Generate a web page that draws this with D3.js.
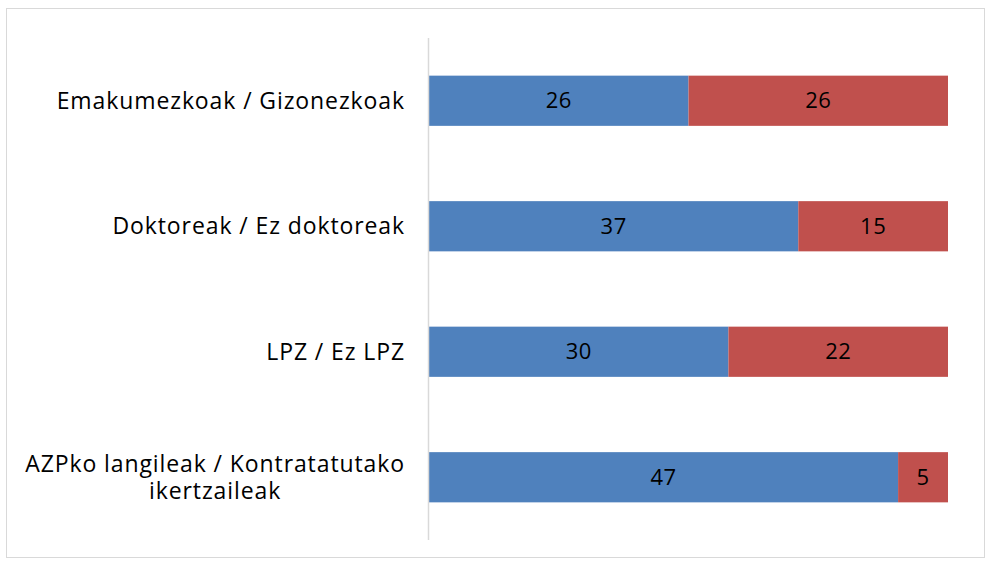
<!DOCTYPE html>
<html><head><meta charset="utf-8">
<script src="https://cdn.jsdelivr.net/npm/d3@7"></script>
<style>body{margin:0;background:#fff}svg{display:block}</style>
</head><body>
<svg id="c" width="986" height="562"></svg>
<script>
const categories = [
  ["Emakumezkoak / Gizonezkoak"],
  ["Doktoreak / Ez doktoreak"],
  ["LPZ / Ez LPZ"],
  ["AZPko langileak / Kontratatutako", "ikertzaileak"]
];
const seriesA = [26, 37, 30, 47];
const seriesB = [26, 15, 22, 5];
const colors = ["#4F81BD", "#C0504D"];

const svg = d3.select("#c");
const font = "'Open Sans', sans-serif";
svg.append("rect").attr("x",6.5).attr("y",8.5).attr("width",978).attr("height",549)
  .attr("fill","#fff").attr("stroke","#d9d9d9").attr("stroke-width",1);

const x = d3.scaleLinear().domain([0,52]).range([429,948]);
const y = d3.scaleBand().domain(d3.range(categories.length)).range([38,540]).paddingInner(0.6).paddingOuter(0.3);

const g = svg.append("g");
categories.forEach((c,i)=>{
  const stacks = [[0,seriesA[i]],[seriesA[i],seriesA[i]+seriesB[i]]];
  const vals = [seriesA[i], seriesB[i]];
  stacks.forEach((s,j)=>{
    g.append("rect").attr("x",x(s[0])).attr("y",y(i)).attr("width",x(s[1])-x(s[0]))
     .attr("height",y.bandwidth()).attr("fill",colors[j]);
    g.append("text").attr("x",(x(s[0])+x(s[1]))/2).attr("y",y(i)+y.bandwidth()/2)
     .attr("dy","0.35em").attr("text-anchor","middle").attr("font-family",font)
     .attr("font-size",22).attr("letter-spacing","0.5px").attr("fill","#000").text(vals[j]);
  });
});

// axis line
svg.append("line").attr("x1",428.5).attr("x2",428.5).attr("y1",38).attr("y2",540)
  .attr("stroke","#d9d9d9").attr("stroke-width",1.5);

// category labels
categories.forEach((lines,i)=>{
  const cy = y(i)+y.bandwidth()/2;
  const lh = 27;
  const y0 = cy - (lines.length-1)*lh/2;
  const mk = () => svg.append("text").attr("font-family",font).attr("font-size",23)
     .attr("letter-spacing","0.9px").attr("fill","#000");
  const first = mk().attr("x",405).attr("y",y0).attr("dy","0.35em").attr("text-anchor","end").text(lines[0]);
  const w = first.node().getComputedTextLength();
  const center = 405 - w/2;
  lines.slice(1).forEach((l,k)=>{
    mk().attr("x",center).attr("y",y0+(k+1)*lh).attr("dy","0.35em").attr("text-anchor","middle").text(l);
  });
});
</script>
</body></html>
